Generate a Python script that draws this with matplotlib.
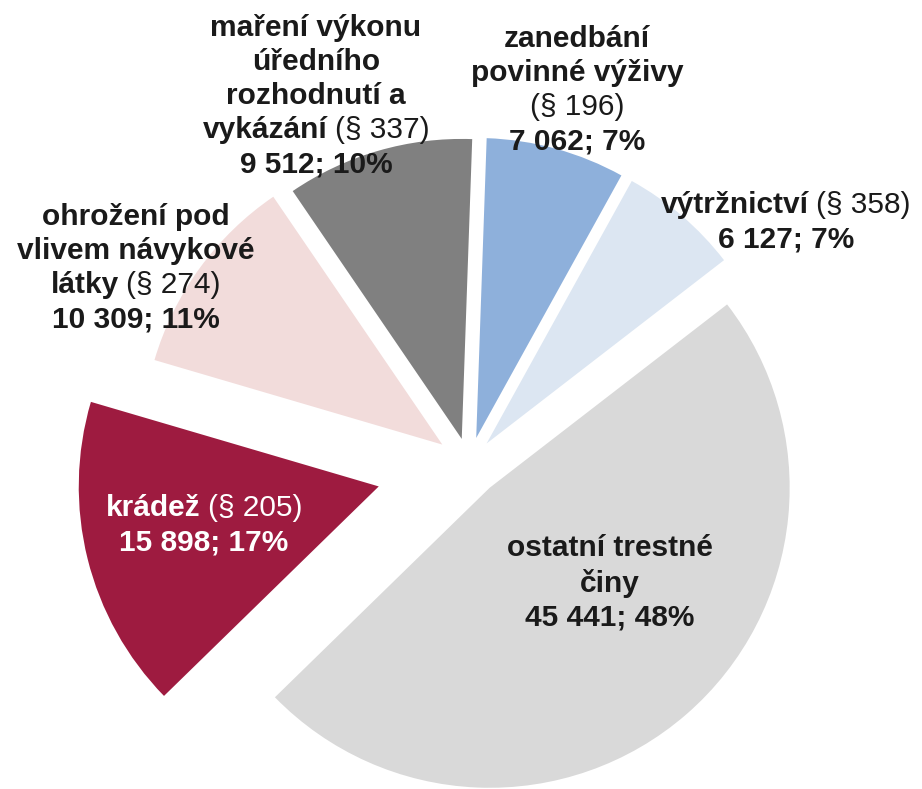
import matplotlib

matplotlib.use("Agg")
import matplotlib.pyplot as plt
from matplotlib.offsetbox import AnnotationBbox, HPacker, TextArea, VPacker

plt.rcParams["font.family"] = ["Liberation Sans", "DejaVu Sans"]

# data (clockwise from 12 o'clock)
names = [
    "zanedbání\npovinné výživy",
    "výtržnictví",
    "ostatní trestné\nčiny",
    "krádež",
    "ohrožení pod\nvlivem návykové\nlátky",
    "maření výkonu\núředního\nrozhodnutí a\nvykázání",
]
paragraphs = ["§ 196", "§ 358", None, "§ 205", "§ 274", "§ 337"]
values = [7062, 6127, 45441, 15898, 10309, 9512]
percents = [7, 7, 48, 17, 11, 10]

colors = ["#8eb0db", "#dce6f2", "#d9d9d9", "#9e1b40", "#f2dcdb", "#808080"]
text_colors = ["#1a1a1a", "#1a1a1a", "#1a1a1a", "white", "#1a1a1a", "#1a1a1a"]
explode = [0.09, 0.09, 0.105, 0.31, 0.11, 0.087]
para_own_line = [True, False, False, False, False, False]
# label centres in image pixels (x right, y down)
label_pos = [(577, 90), (786, 222), (610, 583), (204, 525), (136, 268), (316, 96)]

W, H = 922, 789
R = 300
FS = 21.5

fig = plt.figure(figsize=(W / 100, H / 100), dpi=100)
ax = fig.add_axes([0, 0, 1, 1])

# matplotlib's explode is in data units, so scale by the radius
ax.pie(
    values,
    colors=colors,
    startangle=88,
    counterclock=False,
    explode=[e * R for e in explode],
    radius=R,
    center=(469, H - 464),
    wedgeprops=dict(linewidth=0),
)
ax.set_xlim(0, W)
ax.set_ylim(0, H)
ax.set_aspect("equal")
ax.axis("off")


def _ta(s, bold, color):
    return TextArea(s, textprops=dict(fontsize=FS, fontweight="bold" if bold else "normal", color=color))


for i, name in enumerate(names):
    col = text_colors[i]
    lines = []
    name_lines = name.split("\n")
    para = f"({paragraphs[i]})" if paragraphs[i] else None
    for j, ln in enumerate(name_lines):
        parts = [_ta(ln, True, col)]
        if para and j == len(name_lines) - 1 and not para_own_line[i]:
            parts.append(_ta(para, False, col))
        lines.append(HPacker(children=parts, sep=5, align="baseline"))
    if para and para_own_line[i]:
        lines.append(HPacker(children=[_ta(para, False, col)], sep=0))
    val = f"{values[i]:,}".replace(",", " ") + f"; {percents[i]}%"
    lines.append(HPacker(children=[_ta(val, True, col)], sep=0))
    box = VPacker(children=lines, sep=4.5, align="center")
    x, y = label_pos[i]
    ab = AnnotationBbox(box, (x, H - y), xycoords="data", frameon=False, box_alignment=(0.5, 0.5), pad=0)
    ax.add_artist(ab)

fig.savefig("out.png", dpi=100)
